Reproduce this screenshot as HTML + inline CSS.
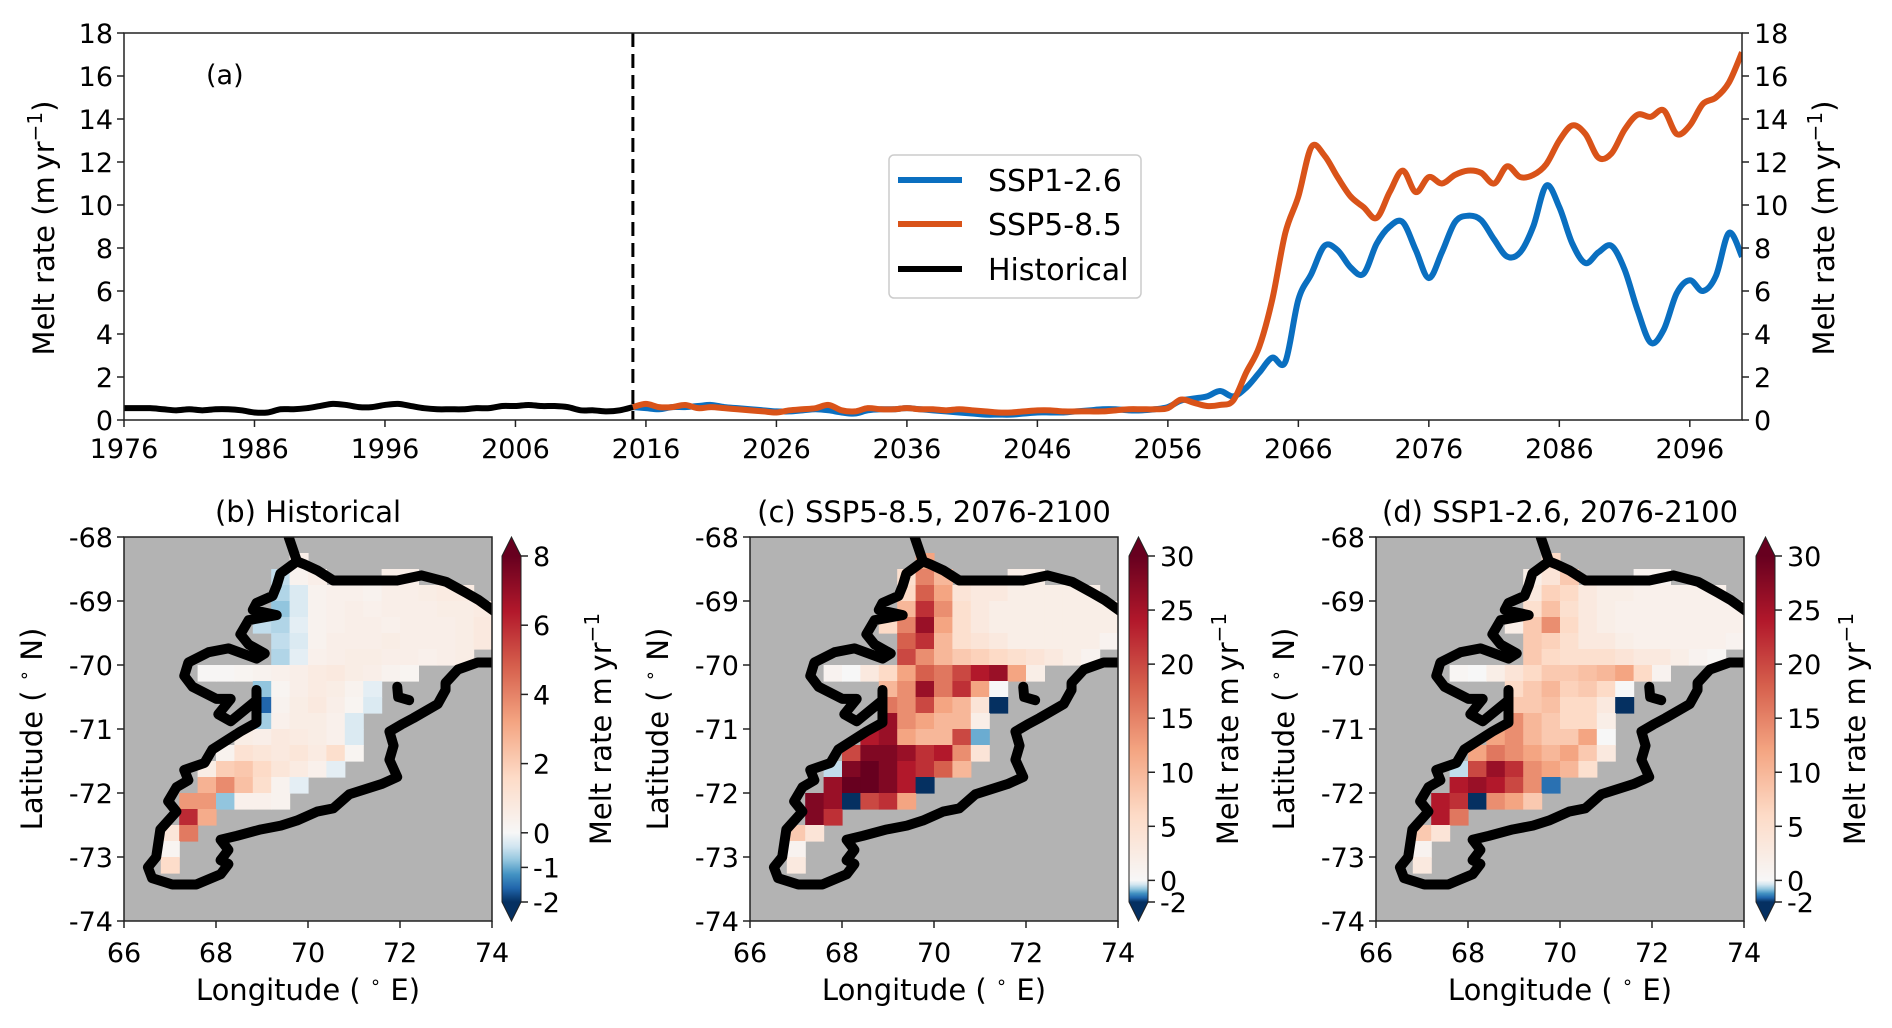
<!DOCTYPE html>
<html><head><meta charset="utf-8"><style>
html,body{margin:0;padding:0;background:#fff}
svg{display:block;font-family:"DejaVu Sans","Liberation Sans",sans-serif}
</style></head><body>
<svg id="fig" width="1892" height="1028" viewBox="0 0 1892 1028" xmlns="http://www.w3.org/2000/svg">
<rect width="1892" height="1028" fill="#fff"/>
<g id="panelA"></g>
<g id="maps"></g>
</svg>
<script>
// ---------- Panel (a) data ----------
const histYears = [];
for (let y = 1976; y <= 2015; y++) histYears.push(y);
const histValues = [0.55,0.55,0.55,0.5,0.45,0.5,0.45,0.5,0.5,0.45,0.35,0.35,0.5,0.5,0.55,0.65,0.75,0.7,0.6,0.6,0.7,0.75,0.65,0.55,0.5,0.5,0.5,0.55,0.55,0.65,0.65,0.7,0.65,0.65,0.6,0.45,0.45,0.4,0.45,0.6];
const projYears = [];
for (let y = 2015; y <= 2100; y++) projYears.push(y);
const ssp126Values = [0.6,0.55,0.5,0.6,0.6,0.65,0.7,0.6,0.55,0.5,0.45,0.4,0.4,0.45,0.5,0.45,0.35,0.3,0.45,0.5,0.5,0.55,0.5,0.45,0.4,0.35,0.3,0.25,0.25,0.25,0.3,0.35,0.35,0.35,0.4,0.45,0.5,0.5,0.45,0.45,0.5,0.6,0.9,1.0,1.1,1.35,1.1,1.5,2.2,2.9,2.7,5.6,6.8,8.1,7.9,7.1,6.8,8.2,9.0,9.2,7.9,6.6,7.8,9.2,9.5,9.3,8.4,7.6,7.8,9.0,10.9,9.9,8.2,7.3,7.8,8.1,7.0,5.1,3.6,4.2,5.9,6.5,6.0,6.7,8.7,7.6];
const ssp585Values = [0.6,0.75,0.6,0.6,0.7,0.55,0.6,0.55,0.5,0.45,0.4,0.35,0.45,0.5,0.55,0.7,0.45,0.4,0.55,0.5,0.5,0.55,0.5,0.5,0.45,0.5,0.45,0.4,0.35,0.35,0.4,0.45,0.45,0.4,0.4,0.4,0.4,0.45,0.5,0.5,0.5,0.55,0.95,0.8,0.65,0.7,0.9,2.2,3.4,5.6,8.7,10.4,12.7,12.3,11.3,10.4,9.9,9.4,10.6,11.6,10.6,11.3,11.0,11.4,11.6,11.5,11.0,11.8,11.3,11.4,11.9,13.0,13.7,13.3,12.2,12.4,13.5,14.2,14.1,14.4,13.3,13.7,14.7,15.0,15.7,17.1];
const xTickYears = [1976,1986,1996,2006,2016,2026,2036,2046,2056,2066,2076,2086,2096];
const yTickValues = [0,2,4,6,8,10,12,14,16,18];

// ---------- Map data (0.4° lon x 0.25° lat cells; rows from -68 southward) ----------
const rowStartCol = [null,9,8,8,8,7,8,8,4,7,7,7,6,5,4,4,3,3,2,2,2,null,null,null];
const extraCells = [[2,14,15]];
const histMelt = [[],[0.5],[-0.5,0.3,0.5,0.5,0.5],[-0.6,-0.3,0.3,0.4,0.4,0.3,0.5,0.5,0.6,0.7,0.7],[-0.8,-0.3,0.3,0.4,0.5,0.4,0.5,0.5,0.5,0.6,0.6,0.7],[-0.5,-0.6,-0.2,0.3,0.4,0.5,0.5,0.4,0.5,0.5,0.5,0.6,0.8],[-0.5,-0.3,0.3,0.5,0.5,0.5,0.6,0.5,0.5,0.5,0.6,0.8],[-0.6,-0.2,0.4,0.5,0.6,0.6,0.5,0.5,0.4,0.5,0.6],[0.1,0.1,0.2,0.3,0.4,0.5,0.7,0.8,0.6,0.5,0.3,0.2],[-0.8,0.2,0.5,0.7,0.6,0.3,-0.2],[-1.6,0.3,0.6,0.8,0.5,0.2,-0.3],[-0.7,0.4,0.6,0.6,0.4,-0.3],[0.6,0.5,0.8,0.7,0.6,0.4,-0.3],[0.3,1.2,1.0,0.8,1.0,0.7,1.4,0.2],[0.6,2.0,2.2,1.6,1.0,0.7,0.4,-0.2],[2.8,3.8,2.4,1.4,0.3,-0.2],[3.5,3.5,-0.8,0.4,0.4,0.3],[6.0,3.0],[1.0,4.2],[0.2],[1.5],[],[],[]];
const ssp585Melt = [[],[12],[5,15,10,2,2],[6,18,12,4,3,3,2,2,2,2,2],[10,22,14,5,3,2,2,2,2,2,2,2],[6,15,26,12,5,3,2,2,2,2,2,2,2],[18,22,10,5,4,3,2,2,2,2,2,1],[20,14,10,8,7,6,5,4,3,2,1],[1,0,3,6,12,18,16,20,24,26,12,2],[10,14,26,16,22,12,0],[16,14,20,12,10,4,-2],[26,14,12,10,10,2],[24,26,12,10,10,20,-1],[20,28,28,26,22,24,14,4],[-0.5,28,30,28,24,22,18,10],[26,30,30,28,24,-2],[28,26,-2,20,22,12],[28,22],[8,4],[1],[3],[],[],[]];
const ssp126Melt = [[],[6],[2,4,8,1,1],[3,7,6,3,2,2,1.5,1.5,1.5,1.5,1.5],[5,9,5,3,2,1.5,1.5,1.5,1.5,1.5,1.5,1.5],[2,8,14,6,3,2,1.5,1.5,1.5,1.5,1.5,1.5,1.5],[8,7,5,3,3,2,1.5,1.5,1.5,1.5,1.5,1],[8,6,5,5,5,4,3,3,2,1,0.5],[0.5,0,2,4,6,8,8,9,10,12,6,1],[6,8,10,7,8,6,0],[8,8,9,6,6,3,-2],[14,10,8,6,6,2],[12,14,10,8,8,12,0],[12,16,14,12,10,12,8,3],[-0.5,20,26,22,14,12,10,5],[24,26,24,20,14,-1.5],[24,22,-2,14,12,8],[24,16],[8,4],[1],[3],[],[],[]];
const lonTicks = [66,68,70,72,74];
const latTicks = [-68,-69,-70,-71,-72,-73,-74];
const histCbTicks = [8,6,4,2,0,-1,-2];
const projCbTicks = [30,25,20,15,10,5,0,-2];
const outline = [[69.58,-68.0],[69.76,-68.38],[69.93,-68.43],[70.2,-68.52],[70.55,-68.68],[71.94,-68.68],[72.47,-68.6],[73.0,-68.7],[73.43,-68.87],[73.7,-68.98],[74.05,-69.16]];
const outline2 = [[69.76,-68.38],[69.4,-68.57],[69.32,-68.76],[69.23,-68.92],[68.88,-69.03],[68.8,-69.14],[69.32,-69.22],[68.71,-69.3],[68.53,-69.52],[68.71,-69.68],[69.06,-69.82],[68.88,-69.9],[68.27,-69.74],[67.84,-69.8],[67.4,-69.96],[67.31,-70.17],[67.49,-70.34],[68.01,-70.53],[68.32,-70.53],[68.05,-70.77],[68.32,-70.88],[68.88,-70.55],[68.88,-70.39],[68.88,-70.9],[68.53,-71.04],[67.92,-71.32],[67.75,-71.53],[67.31,-71.64],[67.4,-71.8],[67.14,-71.91],[66.96,-72.13],[67.14,-72.29],[66.79,-72.57],[66.7,-73.0],[66.52,-73.16],[66.61,-73.33],[67.05,-73.43],[67.57,-73.43],[68.1,-73.27],[68.27,-73.11],[68.1,-73.05],[68.27,-72.89],[68.1,-72.73],[68.45,-72.67],[68.97,-72.57],[69.41,-72.51],[69.76,-72.43],[70.2,-72.29],[70.55,-72.24],[70.9,-72.02],[71.6,-71.86],[71.94,-71.75],[71.77,-71.48],[71.86,-71.26],[71.77,-71.04],[72.03,-70.93],[72.29,-70.83],[72.82,-70.61],[72.99,-70.39],[72.99,-70.28],[73.26,-70.07],[73.69,-69.96],[74.05,-69.96]];
const islet = [[71.94,-70.34],[71.96,-70.5],[72.2,-70.55]];

const NS = "http://www.w3.org/2000/svg";
function mk(tag, attrs, parent){const e=document.createElementNS(NS,tag);for(const k in attrs)e.setAttribute(k,attrs[k]);parent.appendChild(e);return e;}
const FS = 27;
const LFS = 29;

// ---------- Panel (a) ----------
const panelA = document.getElementById('panelA');
const AX = {l:124, r:1742, t:33, b:420, x0:1976, x1:2100, y0:0, y1:18};
const xs = y => AX.l + (y-AX.x0)/(AX.x1-AX.x0)*(AX.r-AX.l);
const ys = v => AX.b - (v-AX.y0)/(AX.y1-AX.y0)*(AX.b-AX.t);
function smoothPath(xv, yv){
  const p = xv.map((x,i)=>[xs(x), ys(yv[i])]);
  let d = `M${p[0][0]},${p[0][1]}`;
  for(let i=0;i<p.length-1;i++){
    const p0=p[Math.max(0,i-1)],p1=p[i],p2=p[i+1],p3=p[Math.min(p.length-1,i+2)];
    const c1=[p1[0]+(p2[0]-p0[0])/6,p1[1]+(p2[1]-p0[1])/6];
    const c2=[p2[0]-(p3[0]-p1[0])/6,p2[1]-(p3[1]-p1[1])/6];
    d+=` C${c1[0]},${c1[1]} ${c2[0]},${c2[1]} ${p2[0]},${p2[1]}`;
  }
  return d;
}
let cp = mk('clipPath',{id:'clipTop'},panelA); mk('rect',{x:AX.l,y:AX.t,width:AX.r-AX.l,height:AX.b-AX.t},cp);
let s1 = mk('path',{d:smoothPath(projYears,ssp126Values),fill:'none',stroke:'#0a6fc0','stroke-width':6,'stroke-linejoin':'round','clip-path':'url(#clipTop)'},panelA);


let s5 = mk('path',{d:smoothPath(projYears,ssp585Values),fill:'none',stroke:'#d95319','stroke-width':6,'stroke-linejoin':'round','clip-path':'url(#clipTop)'},panelA);


let hl = mk('path',{d:smoothPath(histYears,histValues),fill:'none',stroke:'#000','stroke-width':6,'stroke-linejoin':'round','clip-path':'url(#clipTop)'},panelA);


let dl = mk('line',{x1:xs(2015),x2:xs(2015),y1:AX.t,y2:AX.b,stroke:'#000','stroke-width':3,'stroke-dasharray':'14,7'},panelA);


let fr = mk('rect',{x:AX.l,y:AX.t,width:AX.r-AX.l,height:AX.b-AX.t,fill:'none',stroke:'#222','stroke-width':1.5},panelA);


xTickYears.forEach(y=>{
  mk('line',{x1:xs(y),x2:xs(y),y1:AX.b,y2:AX.b+7,stroke:'#222','stroke-width':1.5},panelA);
  const t=mk('text',{x:xs(y),y:458,'text-anchor':'middle','font-size':FS},panelA);t.textContent=y;
  
  
});
yTickValues.forEach(v=>{
  mk('line',{x1:AX.l-7,x2:AX.l,y1:ys(v),y2:ys(v),stroke:'#222','stroke-width':1.5},panelA);
  mk('line',{x1:AX.r,x2:AX.r+7,y1:ys(v),y2:ys(v),stroke:'#222','stroke-width':1.5},panelA);
  const t=mk('text',{x:AX.l-11,y:ys(v)+10,'text-anchor':'end','font-size':FS},panelA);t.textContent=v;
  
  
  const t2=mk('text',{x:AX.r+12,y:ys(v)+10,'text-anchor':'start','font-size':FS},panelA);t2.textContent=v;
  
  
});
function ylab(x,y,name){
  const t=mk('text',{x:0,y:0,'text-anchor':'middle','font-size':LFS,transform:`translate(${x},${y}) rotate(-90)`},panelA);
  t.innerHTML='Melt rate (m\u2009yr<tspan font-size="20" dy="-12">\u22121</tspan><tspan dy="12">)</tspan>';
  
  
}
ylab(54,228,'y-axis-title-left'); ylab(1834,228,'y-axis-title-right');
let pa = mk('text',{x:206,y:84,'font-size':FS},panelA); pa.textContent='(a)';


const lg = mk('g',{},panelA);


mk('rect',{x:889,y:155,width:252,height:143,rx:5,fill:'#fff',stroke:'#ccc','stroke-width':1.5},lg);
[['SSP1-2.6','#0a6fc0',180],['SSP5-8.5','#d95319',224],['Historical','#000',269]].forEach(([n,c,y])=>{
  mk('line',{x1:898,x2:962,y1:y,y2:y,stroke:c,'stroke-width':6},lg);
  const t=mk('text',{x:988,y:y+11,'font-size':30},lg);t.textContent=n;
  
  
});

// ---------- Maps ----------
const stops=[[0,'#053061'],[0.1,'#2166ac'],[0.2,'#4393c3'],[0.3,'#92c5de'],[0.4,'#d1e5f0'],[0.5,'#f7f7f7'],[0.6,'#fddbc7'],[0.7,'#f4a582'],[0.8,'#d6604d'],[0.9,'#b2182b'],[1,'#67001f']];
function hex(h){return [1,3,5].map(i=>parseInt(h.substr(i,2),16));}
function cmap(f){f=Math.max(0,Math.min(1,f));for(let i=0;i<stops.length-1;i++){const [a,ca]=stops[i],[b,cb]=stops[i+1];if(f<=b){const t=(f-a)/(b-a),A=hex(ca),B=hex(cb);return `rgb(${A.map((v,k)=>Math.round(v+(B[k]-v)*t)).join(',')})`;}}return stops[10][1];}
function norm(v,vmin,vmax){return v<0?0.5-0.5*v/vmin:0.5+0.5*v/vmax;}
const mapsG=document.getElementById('maps');
const MT=537, MB=921;
function drawMap(L, R, cbL, title, vals, vmin, vmax, cbTicks, nm){
  const g=mk('g',{},mapsG);
  
  
  const lx=lon=>L+(lon-66)/8*(R-L), ly=lat=>MT+(-68-lat)/6*(MB-MT);
  mk('rect',{x:L,y:MT,width:R-L,height:MB-MT,fill:'#b3b3b3'},g);
  vals.forEach((row,r)=>{
    const sc=rowStartCol[r]; if(sc===null) return;
    const cols=[];
    const ex=extraCells.find(e=>e[0]===r);
    const mainLen = ex? row.length-(ex[2]-ex[1]+1) : row.length;
    for(let i=0;i<mainLen;i++) cols.push(sc+i);
    if(ex) for(let c=ex[1];c<=ex[2];c++) cols.push(c);
    row.forEach((v,i)=>{
      const c=cols[i];
      const x0=lx(66+0.4*c), x1=lx(66+0.4*(c+1)), y0=ly(-68-0.25*r), y1=ly(-68-0.25*(r+1));
      const cell=mk('rect',{x:x0,y:y0,width:x1-x0+0.6,height:y1-y0+0.6,fill:cmap(norm(v,vmin,vmax))},g);
      
      
    });
  });
  const cid='clip'+nm; const c2=mk('clipPath',{id:cid},g); mk('rect',{x:L,y:MT,width:R-L,height:MB-MT},c2);
  [outline,outline2,islet].forEach(o=>{
    const p=mk('polyline',{points:o.map(([a,b])=>`${lx(a)},${ly(b)}`).join(' '),fill:'none',stroke:'#000','stroke-width':10,'stroke-linejoin':'round','stroke-linecap':'round','clip-path':`url(#${cid})`},g);
    
    
  });
  mk('rect',{x:L,y:MT,width:R-L,height:MB-MT,fill:'none',stroke:'#222','stroke-width':1.5},g);
  lonTicks.forEach(v=>{mk('line',{x1:lx(v),x2:lx(v),y1:MB,y2:MB+7,stroke:'#222','stroke-width':1.5},g);
    const t=mk('text',{x:lx(v),y:962,'text-anchor':'middle','font-size':FS},g);t.textContent=v;
    
    });
  latTicks.forEach(v=>{mk('line',{x1:L-7,x2:L,y1:ly(v),y2:ly(v),stroke:'#222','stroke-width':1.5},g);
    const t=mk('text',{x:L-11,y:ly(v)+10,'text-anchor':'end','font-size':FS},g);t.textContent=v;
    
    });
  const xt=mk('text',{x:(L+R)/2,y:1000,'text-anchor':'middle','font-size':LFS},g);
  xt.innerHTML='Longitude ( <tspan font-size="18" dy="-12">\u2218</tspan><tspan dy="12"> E)</tspan>';
  
  
  const yt=mk('text',{x:0,y:0,'text-anchor':'middle','font-size':LFS,transform:`translate(${L-82},${(MT+MB)/2}) rotate(-90)`},g);
  yt.innerHTML='Latitude ( <tspan font-size="18" dy="-12">\u2218</tspan><tspan dy="12"> N)</tspan>';
  
  
  const tt=mk('text',{x:(L+R)/2,y:522,'text-anchor':'middle','font-size':LFS},g);tt.textContent=title;
  
  
  const cb=mk('g',{},g);
  
  
  const CT=556, CB=902, W=19;
  const cy=v=>CT+(vmax-v)/(vmax-vmin)*(CB-CT);
  for(let y=CT;y<CB;y+=1){const v=vmax-(y-CT+0.5)/(CB-CT)*(vmax-vmin);mk('rect',{x:cbL,y:y,width:W,height:1.2,fill:cmap(norm(v,vmin,vmax))},cb);}
  mk('polygon',{points:`${cbL},${CT} ${cbL+W},${CT} ${cbL+W/2},${MT}`,fill:cmap(1)},cb);
  mk('polygon',{points:`${cbL},${CB} ${cbL+W},${CB} ${cbL+W/2},${MB}`,fill:cmap(0)},cb);
  mk('polygon',{points:`${cbL},${CT} ${cbL+W/2},${MT} ${cbL+W},${CT} ${cbL+W},${CB} ${cbL+W/2},${MB} ${cbL},${CB}`,fill:'none',stroke:'#222','stroke-width':1},cb);
  cbTicks.forEach(v=>{mk('line',{x1:cbL+W,x2:cbL+W+7,y1:cy(v),y2:cy(v),stroke:'#222','stroke-width':1.5},cb);
    const t=mk('text',{x:cbL+W+12,y:cy(v)+10,'font-size':FS},cb);t.textContent=v;
    
    });
  const cl=mk('text',{x:0,y:0,'text-anchor':'middle','font-size':LFS,transform:`translate(${cbL+W+90},${(MT+MB)/2}) rotate(-90)`},cb);
  cl.innerHTML='Melt rate m\u2009yr<tspan font-size="20" dy="-12">\u22121</tspan>';
  
  
}
drawMap(124,492,502,'(b) Historical',histMelt,-2,8,histCbTicks,'map-historical');
drawMap(750,1118,1129,'(c) SSP5-8.5, 2076-2100',ssp585Melt,-2,30,projCbTicks,'map-ssp585');
drawMap(1376,1744,1756,'(d) SSP1-2.6, 2076-2100',ssp126Melt,-2,30,projCbTicks,'map-ssp126');
</script>
</body></html>
